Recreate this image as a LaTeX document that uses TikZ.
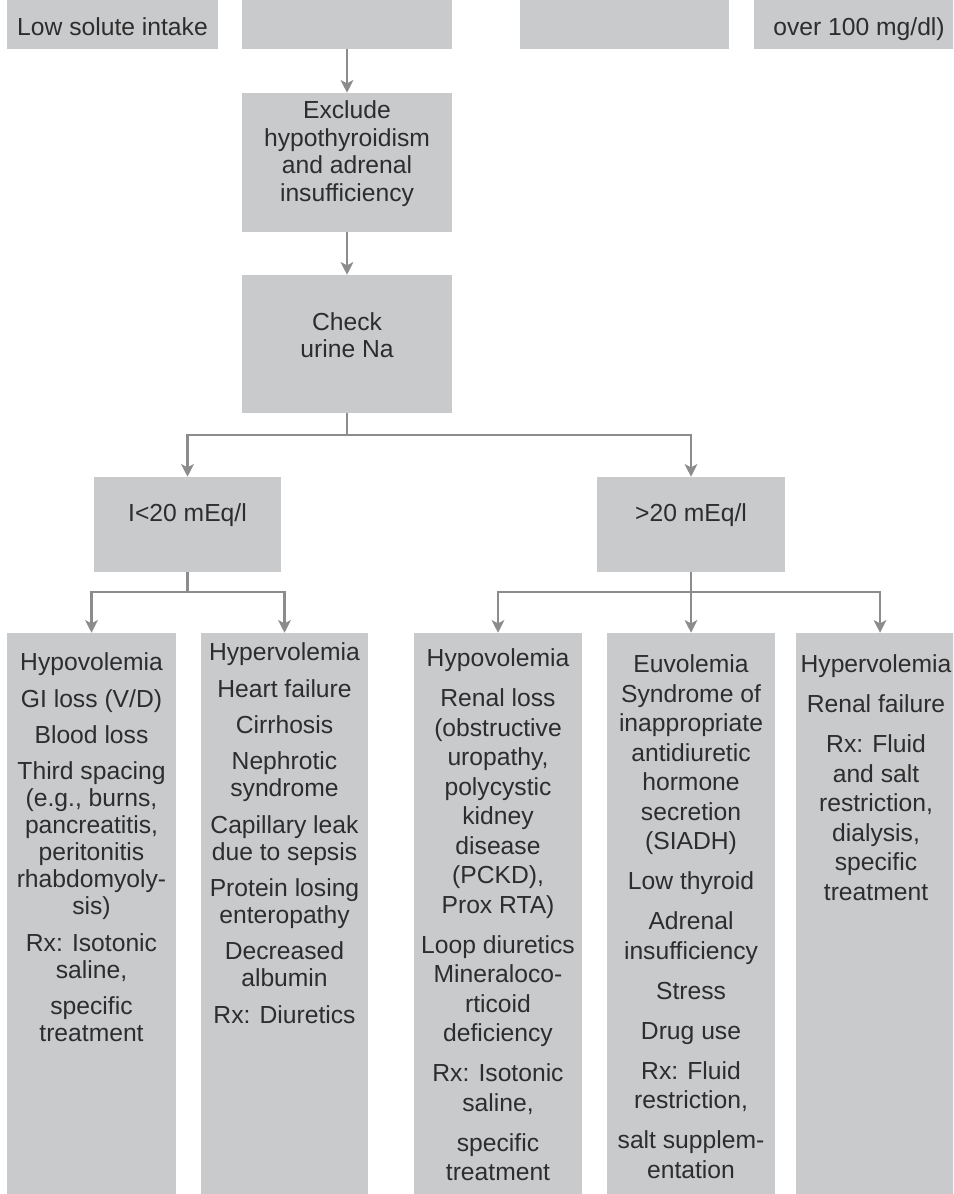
\documentclass[tikz,border=0pt]{standalone}
\usepackage{fontspec}
\setmainfont{Liberation Sans}
\usetikzlibrary{arrows.meta,positioning,fit}
\definecolor{boxgrey}{RGB}{201,202,204}
\definecolor{linegrey}{RGB}{140,140,140}
\definecolor{textgrey}{RGB}{45,45,45}
\newcommand{\fcfont}{\fontsize{18.5}{20.6}\selectfont}
\newcommand{\fcnarrow}{\fontsize{18.5}{20.25}\selectfont}
\newcommand{\fcwide}{\fontsize{18.5}{22.1}\selectfont}
\tikzset{
  flowchart/.style={font=\fcfont, x=0.75pt, y=-0.75pt, text=textgrey},
  % a grey box of the chart, stretched over the two corners it is given
  sbox/.style={fill=boxgrey, draw=none, inner sep=0pt, align=center},
  % the stacked causes that sit at the head of a bottom box
  clist/.style={inner sep=0pt, align=center, font=\fcnarrow},
  % ditto, for the three boxes under >20, which are set a little looser
  wclist/.style={clist, font=\fcwide},
  % a connector between boxes
  branch/.style={draw=linegrey, line width=1.6pt,
                 -{Stealth[length=9.5pt,width=9.5pt,inset=2.5pt]}},
}
\newcommand{\bx}[6]{\node[sbox, fit={(#2,#3) (#4,#5)}] (#1) {#6};}
\newcommand{\gap}{\\[7pt]}
\newcommand{\wgap}{\\[7.9pt]}

\begin{document}
\begin{tikzpicture}[flowchart]
  \useasboundingbox (0,0) rectangle (953,1194);
  \clip (0,0) rectangle (953,1194);

  % top row, cut off by the page edge
  \bx{lowA}{7}{-60}{218}{49}{}
  \bx{lowB}{242}{-60}{452}{49}{}
  \bx{lowC}{520}{-60}{729}{49}{}
  \bx{lowD}{754}{-60}{964}{49}{}
  \node[anchor=base] (lowAt) at (112.5,36) {Low solute intake};
  \node[anchor=base] (lowDt) at (859,36) {over 100 mg/dl)};

  % the two checks
  \bx{excl}{242}{93}{452}{232}{Exclude\\hypothyroidism\\and adrenal\\insufficiency}
  \bx{check}{242}{275}{452}{413}{Check\\urine Na}

  % urine Na split
  \bx{lo20}{94}{477}{281}{572}{I<20 mEq/l}
  \bx{hi20}{597}{477}{785}{572}{>20 mEq/l}

  % bottom row, cut off by the page edge
  \bx{hypoA}{7}{633}{176}{1250}{}
  \bx{hyperB}{201}{633}{368}{1250}{}
  \bx{hypoC}{414}{633}{582}{1250}{}
  \bx{euD}{607}{633}{775}{1250}{}
  \bx{hyperE}{796}{633}{964}{1250}{}

  \node[clist, below=15pt of hypoA.north] (hypoAt) {Hypovolemia\gap GI loss (V/D)\gap
    Blood loss\gap Third spacing\\(e.g., burns,\\pancreatitis,\\peritonitis\\
    rhabdomyoly-\\sis)\gap Rx: Isotonic\\saline,\gap specific\\treatment};
  \node[clist, below=7.5pt of hyperB.north] (hyperBt) {Hypervolemia\gap Heart failure\gap
    Cirrhosis\gap Nephrotic\\syndrome\gap Capillary leak\\due to sepsis\gap
    Protein losing\\enteropathy\gap Decreased\\albumin\gap Rx: Diuretics};
  \node[wclist, below=12pt of hypoC.north] (hypoCt) {Hypovolemia\wgap Renal loss\\
    (obstructive\\uropathy,\\polycystic\\kidney\\disease\\(PCKD),\\Prox RTA)\wgap
    Loop diuretics\\Mineraloco-\\rticoid\\deficiency\wgap Rx: Isotonic\\saline,\wgap
    specific\\treatment};
  \node[wclist, below=16.5pt of euD.north] (euDt) {Euvolemia\\Syndrome of\\inappropriate\\
    antidiuretic\\hormone\\secretion\\(SIADH)\wgap Low thyroid\wgap Adrenal\\
    insufficiency\wgap Stress\wgap Drug use\wgap Rx: Fluid\\restriction,\wgap
    salt supplem-\\entation};
  \node[wclist, below=16.5pt of hyperE.north, xshift=-3pt] (hyperEt) {Hypervolemia\wgap
    Renal failure\wgap Rx: Fluid\\and salt\\restriction,\\dialysis,\\specific\\treatment};

  \draw[branch] (lowB) -- (excl);
  \draw[branch] (excl) -- (check);
  \draw[branch] (check.south) -- ++(0,22) -| (lo20);
  \draw[branch] (check.south) -- ++(0,22) -| (hi20);
  \draw[branch] (lo20.south) -- ++(0,20) -| (hypoA);
  \draw[branch] (lo20.south) -- ++(0,20) -| (hyperB);
  \draw[branch] (hi20.south) -- ++(0,20) -| (hypoC);
  \draw[branch] (hi20.south) -- (euD);
  \draw[branch] (hi20.south) -- ++(0,20) -| (hyperE);
\end{tikzpicture}
\end{document}
